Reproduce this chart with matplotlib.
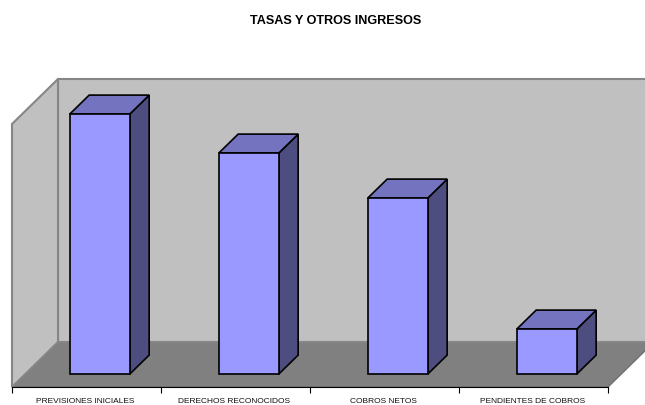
import matplotlib
matplotlib.use("Agg")
import matplotlib.pyplot as plt
from matplotlib.patches import Polygon

categories = ["PREVISIONES INICIALES", "DERECHOS RECONOCIDOS", "COBROS NETOS", "PENDIENTES DE COBROS"]
values = [260, 221, 176, 45]
title = "TASAS Y OTROS INGRESOS"

W, H = 645, 405
LEFT, RIGHT = 12, 608      # front edge of the floor, pixels
FRONT, BACK = 387, 78      # front floor line and top of back wall, pixels
SLOT = (RIGHT - LEFT) / len(categories)
DEPTH_X, DEPTH_Y = 46 / SLOT, 45   # oblique shift of the full depth
FLOOR = -13
WALL_TOP = 263
BAR_W = 60 / SLOT
D0, D1 = 0.29, 0.71        # bar front/back in the depth

plt.rcParams["font.family"] = ["Liberation Sans", "DejaVu Sans"]


def proj(x, v, d):
    return (x + d * DEPTH_X, v + d * DEPTH_Y)


def face(ax, pts, color, edge, lw, z):
    ax.add_patch(Polygon([proj(*p) for p in pts], closed=True, facecolor=color, edgecolor=edge,
                         linewidth=lw, joinstyle="miter", zorder=z, clip_on=False))


fig = plt.figure(figsize=(W / 100, H / 100), dpi=100)
ax = fig.add_axes([LEFT / W, 1 - FRONT / H, (RIGHT - LEFT) / W, (FRONT - BACK) / H])
n = len(categories)
ax.set_xlim(0, n)
ax.set_ylim(FLOOR, FLOOR + FRONT - BACK)

wall = "#c0c0c0"
wall_edge = "#868686"
face(ax, [(0, FLOOR, 0), (n, FLOOR, 0), (n, FLOOR, 1), (0, FLOOR, 1)], "#808080", "#707070", 1.0, 1)
face(ax, [(0, FLOOR, 1), (n, FLOOR, 1), (n, FLOOR + WALL_TOP, 1), (0, FLOOR + WALL_TOP, 1)], wall, wall_edge, 1.5, 1)
face(ax, [(0, FLOOR, 0), (0, FLOOR, 1), (0, FLOOR + WALL_TOP, 1), (0, FLOOR + WALL_TOP, 0)], wall, wall_edge, 1.5, 2)

# the bar base sits at value 0 at depth D0, so only x has to move for the front face
shift = D0 * DEPTH_X
d = D1 - D0
for i, v in enumerate(values):
    x0 = i + 0.5 - BAR_W / 2 + shift
    x1 = x0 + BAR_W
    face(ax, [(x1, 0, 0), (x1, 0, d), (x1, v, d), (x1, v, 0)], "#4d4d80", "black", 1.2, 3)
    face(ax, [(x0, v, 0), (x1, v, 0), (x1, v, d), (x0, v, d)], "#7373c0", "black", 1.2, 3)
    face(ax, [(x0, 0, 0), (x1, 0, 0), (x1, v, 0), (x0, v, 0)], "#9999ff", "black", 1.2, 4)

for s in ["top", "left", "right"]:
    ax.spines[s].set_visible(False)
ax.spines["bottom"].set_linewidth(0.8)
ax.spines["bottom"].set_zorder(5)
ax.yaxis.set_visible(False)
ax.set_xticks(range(n + 1))
ax.set_xticklabels([])
ax.set_xticks([i + 0.5 - 1 / SLOT for i in range(n)], minor=True)
ax.set_xticklabels(categories, minor=True, fontsize=6.0, color="#111111")
ax.tick_params(axis="x", which="major", length=4, width=0.8)
ax.tick_params(axis="x", which="minor", length=0, pad=8.2)
ax.patch.set_visible(False)

fig.text(336 / W, 1 - 21 / H, title, ha="center", va="center", fontsize=9.1, fontweight="bold")

fig.savefig("out.png", dpi=100)
